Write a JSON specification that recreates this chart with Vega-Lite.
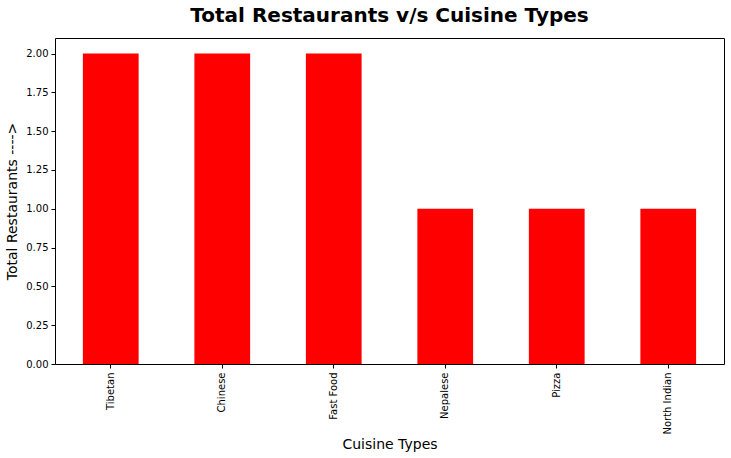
{
  "$schema": "https://vega.github.io/schema/vega-lite/v6.json",
  "autosize": {"type": "none"},
  "padding": {"left": 55, "top": 38, "right": 7, "bottom": 94},
  "width": 669,
  "height": 326,
  "background": "white",
  "title": {
    "text": "Total Restaurants v/s Cuisine Types",
    "font": "DejaVu Sans",
    "fontSize": 20,
    "fontWeight": "bold",
    "color": "black",
    "anchor": "middle",
    "offset": 12
  },
  "data": {
    "values": [
      {"cuisine": "Tibetan", "count": 2},
      {"cuisine": "Chinese", "count": 2},
      {"cuisine": "Fast Food", "count": 2},
      {"cuisine": "Nepalese", "count": 1},
      {"cuisine": "Pizza", "count": 1},
      {"cuisine": "North Indian", "count": 1}
    ]
  },
  "mark": {"type": "bar", "color": "#ff0000"},
  "encoding": {
    "x": {
      "field": "cuisine",
      "type": "nominal",
      "sort": null,
      "scale": {"paddingInner": 0.5, "paddingOuter": 0.25},
      "axis": {
        "title": "Cuisine Types",
        "labelAngle": -90,
        "labelAlign": "right",
        "labelBaseline": "middle",
        "labelPadding": 4,
        "titlePadding": 3
      }
    },
    "y": {
      "field": "count",
      "type": "quantitative",
      "scale": {"domain": [0, 2.1], "nice": false},
      "axis": {
        "title": "Total Restaurants ---->",
        "values": [0, 0.25, 0.5, 0.75, 1, 1.25, 1.5, 1.75, 2],
        "format": ".2f",
        "titlePadding": 6
      }
    }
  },
  "config": {
    "view": {"stroke": "black", "strokeWidth": 1},
    "axis": {
      "domain": false,
      "grid": false,
      "labelFont": "DejaVu Sans",
      "labelFontSize": 10,
      "labelColor": "black",
      "labelPadding": 3,
      "tickColor": "black",
      "tickSize": 4,
      "tickWidth": 1,
      "titleFont": "DejaVu Sans",
      "titleFontSize": 14,
      "titleFontWeight": "normal",
      "titleColor": "black"
    }
  }
}
